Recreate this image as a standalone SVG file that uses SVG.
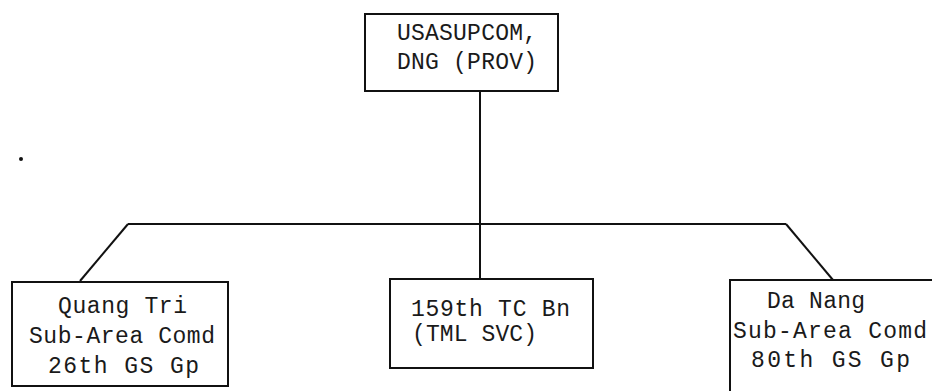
<svg xmlns="http://www.w3.org/2000/svg" width="932" height="391" viewBox="0 0 932 391">
<style>
.box{fill:none;stroke:#111;stroke-width:2}
.ln{fill:none;stroke:#111;stroke-width:2}
text{font-family:"Liberation Mono","Courier New",monospace;font-size:23px;fill:#1a1a1a}
</style>
<rect width="932" height="391" fill="#ffffff"/>
<g id="connectors">
<line class="ln" x1="480" y1="91" x2="480" y2="279"/>
<line class="ln" x1="128" y1="224" x2="786" y2="224"/>
<line class="ln" x1="128" y1="224" x2="80" y2="281"/>
<line class="ln" x1="786" y1="224" x2="833" y2="280"/>
</g>
<g id="usasupcom">
<rect class="box" x="365" y="14" width="193" height="77"/>
<text x="397" y="40" textLength="140" lengthAdjust="spacing">USASUPCOM,</text>
<text x="397" y="69" textLength="140" lengthAdjust="spacing">DNG (PROV)</text>
</g>
<g id="quang-tri">
<rect class="box" x="12" y="282" width="216" height="104"/>
<text x="58" y="313" textLength="129" lengthAdjust="spacing">Quang Tri</text>
<text x="29" y="343" textLength="186" lengthAdjust="spacing">Sub-Area Comd</text>
<text x="48" y="373" textLength="151" lengthAdjust="spacing">26th GS Gp</text>
</g>
<g id="tc-bn">
<rect class="box" x="390" y="279" width="203" height="89"/>
<text x="411" y="316" textLength="159" lengthAdjust="spacing">159th TC Bn</text>
<text x="412" y="341" textLength="125" lengthAdjust="spacing">(TML SVC)</text>
</g>
<g id="da-nang">
<rect class="box" x="730" y="280" width="260" height="150"/>
<text x="767" y="308" textLength="98" lengthAdjust="spacing">Da Nang</text>
<text x="733" y="338" textLength="194" lengthAdjust="spacing">Sub-Area Comd</text>
<text x="751" y="367" textLength="159" lengthAdjust="spacing">80th GS Gp</text>
</g>
<circle cx="21" cy="159" r="2" fill="#111"/>
</svg>
